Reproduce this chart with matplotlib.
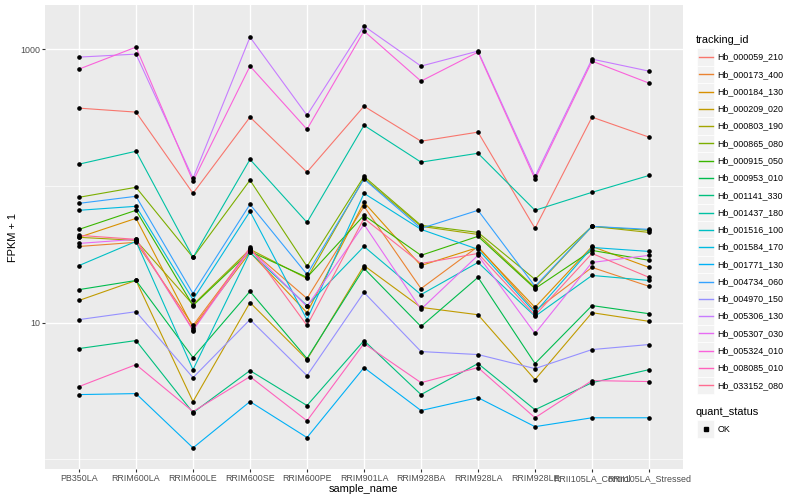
import matplotlib.pyplot as plt
from matplotlib.patches import Rectangle
from matplotlib.ticker import FixedLocator, NullFormatter

plt.rcParams["font.family"] = ["Liberation Sans", "DejaVu Sans"]

samples = [
    "PB350LA", "RRIM600LA", "RRIM600LE", "RRIM600SE", "RRIM600PE",
    "RRIM901LA", "RRIM928BA", "RRIM928LA", "RRIM928LE",
    "RRII105LA_Control", "RRII105LA_Stressed",
]

tracking_ids = [
    "Hb_000059_210", "Hb_000173_400", "Hb_000184_130", "Hb_000209_020",
    "Hb_000803_190", "Hb_000865_080", "Hb_000915_050", "Hb_000953_010",
    "Hb_001141_330", "Hb_001437_180", "Hb_001516_100", "Hb_001584_170",
    "Hb_001771_130", "Hb_004734_060", "Hb_004970_150", "Hb_005306_130",
    "Hb_005307_030", "Hb_005324_010", "Hb_008085_010", "Hb_033152_080",
]

# ggplot hue palette, 20 levels
colors = [
    "#F8766D", "#EA8331", "#D89000", "#C09B00", "#A3A500", "#7CAE00",
    "#39B600", "#00BB4E", "#00BF7D", "#00C1A3", "#00BFC4", "#00BAE0",
    "#00B0F6", "#35A2FF", "#9590FF", "#C77CFF", "#E76BF3", "#FA62DB",
    "#FF62BC", "#FF6C91",
]

# FPKM + 1, one list per gene, in sample order
hb_000059_210 = [370, 346, 88.1, 318, 126, 382, 212, 247, 48.8, 318, 227]
hb_000173_400 = [36.0, 38.6, 9.51, 34.3, 15.0, 70.8, 17.7, 36.0, 12.2, 25.3, 18.4]
hb_000184_130 = [42.0, 57.8, 9.19, 32.6, 11.8, 75.7, 26.1, 35.4, 12.9, 36.0, 25.3]
hb_000209_020 = [14.5, 20.3, 2.64, 14.0, 5.36, 26.1, 12.9, 11.4, 3.82, 11.8, 10.2]
hb_000803_190 = [42.0, 39.9, 13.5, 34.3, 21.0, 113.5, 50.5, 44.1, 18.0, 50.5, 45.6]
hb_000865_080 = [82.4, 97.5, 29.9, 110, 25.7, 117, 51.4, 45.6, 20.7, 50.5, 47.2]
hb_000915_050 = [48.0, 66.2, 13.3, 33.1, 21.4, 60.8, 31.0, 42.7, 17.7, 33.7, 28.5]
hb_000953_010 = [17.4, 20.3, 5.54, 16.9, 5.45, 24.9, 9.35, 21.4, 5.01, 13.3, 11.6]
hb_001141_330 = [6.45, 7.38, 2.19, 4.45, 2.47, 7.38, 2.97, 5.01, 2.30, 3.63, 4.52]
hb_001437_180 = [144, 179, 29.9, 156, 54.0, 277, 149, 173, 66.2, 89.6, 119]
hb_001516_100 = [26.1, 39.2, 4.52, 32.6, 13.3, 36.0, 16.0, 27.5, 11.1, 22.1, 20.3]
hb_001584_170 = [66.2, 70.8, 14.7, 65.0, 10.5, 88.1, 48.0, 34.3, 11.8, 35.4, 33.1]
hb_001771_130 = [2.97, 3.02, 1.21, 2.64, 1.44, 4.68, 2.27, 2.82, 1.73, 2.01, 2.01]
hb_004734_060 = [74.4, 83.8, 16.3, 73.2, 22.5, 112, 48.8, 66.2, 18.4, 50.5, 48.0]
hb_004970_150 = [10.5, 12.0, 3.95, 10.5, 4.09, 16.6, 6.13, 5.83, 4.60, 6.34, 6.90]
hb_005306_130 = [874, 919, 113.5, 1224, 328, 1474, 751, 967, 117, 845, 690]
hb_005307_030 = [37.9, 40.6, 8.74, 34.3, 13.1, 52.2, 12.5, 31.0, 8.31, 27.5, 31.0]
hb_005324_010 = [714, 1034, 108, 751, 259, 1355, 583, 951, 112, 817, 564]
hb_008085_010 = [3.40, 4.92, 2.23, 4.02, 1.91, 7.02, 3.63, 4.68, 2.01, 3.76, 3.70]
hb_033152_080 = [43.4, 40.6, 8.88, 35.4, 9.51, 57.8, 27.0, 32.0, 11.3, 32.0, 21.4]

series = [
    hb_000059_210, hb_000173_400, hb_000184_130, hb_000209_020,
    hb_000803_190, hb_000865_080, hb_000915_050, hb_000953_010,
    hb_001141_330, hb_001437_180, hb_001516_100, hb_001584_170,
    hb_001771_130, hb_004734_060, hb_004970_150, hb_005306_130,
    hb_005307_030, hb_005324_010, hb_008085_010, hb_033152_080,
]

W, H = 800, 500
fig = plt.figure(figsize=(8, 5), dpi=100)

# panel (pixel bounds from the reference)
left, right, top, bottom = 44.8, 683.2, 5, 469
ax = fig.add_axes([left / W, 1 - bottom / H, (right - left) / W, (bottom - top) / H])
ax.set_facecolor("#EBEBEB")
for s in ax.spines.values():
    s.set_visible(False)

x = list(range(len(samples)))
for vals, col in zip(series, colors):
    ax.plot(x, vals, color=col, linewidth=0.8, zorder=2)
for vals in series:
    ax.plot(x, vals, linestyle="none", marker="o", markersize=2.3,
            color="black", zorder=3)

ax.set_yscale("log")
ax.set_ylim(0.848, 2102)
ax.set_xlim(-0.6, len(samples) - 0.4)
ax.yaxis.set_major_locator(FixedLocator([10, 1000]))
ax.set_yticklabels(["10", "1000"])
ax.yaxis.set_minor_locator(FixedLocator([1, 100]))
ax.yaxis.set_minor_formatter(NullFormatter())
ax.set_xticks(x)
ax.set_xticklabels(samples)

ax.grid(True, which="major", color="white", linewidth=1.0, zorder=0)
ax.grid(True, which="minor", axis="y", color="white", linewidth=0.5, zorder=0)
ax.set_axisbelow(True)
ax.tick_params(which="major", length=2.0, width=0.8, color="#333333",
               labelsize=6.4, labelcolor="#4D4D4D", pad=1.5)
ax.tick_params(which="minor", length=0)

fig.text(363 / W, 1 - 489 / H, "sample_name", fontsize=7.9,
         ha="center", va="center")
fig.text(13 / W, 1 - 237 / H, "FPKM + 1", fontsize=7.9, rotation=90,
         ha="center", va="center")

# legend drawn in pixel space
lg = fig.add_axes([0, 0, 1, 1], facecolor="none")
lg.set_xlim(0, W)
lg.set_ylim(H, 0)
lg.axis("off")

key = 17.28
kx = 697
lg.text(696, 40, "tracking_id", fontsize=7.9, ha="left", va="center")
for i, (name, col) in enumerate(zip(tracking_ids, colors)):
    yc = 57 + i * key
    lg.add_patch(Rectangle((kx, yc - key / 2), key, key, facecolor="#F2F2F2",
                           edgecolor="white", linewidth=0.5))
    lg.plot([kx + 1.7, kx + key - 1.7], [yc, yc], color=col, linewidth=1.0)
    lg.text(kx + key + 3, yc, name, fontsize=6.4, ha="left", va="center")

lg.text(696, 412, "quant_status", fontsize=7.9, ha="left", va="center")
lg.add_patch(Rectangle((kx, 429 - key / 2), key, key, facecolor="#F2F2F2",
                       edgecolor="white", linewidth=0.5))
lg.plot([kx + key / 2], [429], marker="s", markersize=2.3, color="black")
lg.text(kx + key + 3, 429, "OK", fontsize=6.4, ha="left", va="center")

fig.savefig("out.png", dpi=100, facecolor="white")
